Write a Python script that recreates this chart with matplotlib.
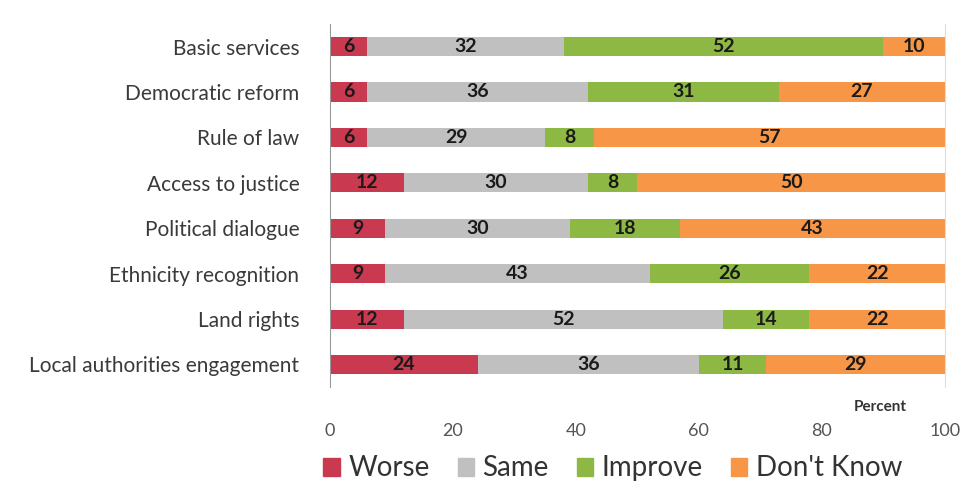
import numpy as np
import matplotlib.pyplot as plt
from matplotlib.patches import Patch

plt.rcParams['font.family'] = ['Lato', 'DejaVu Sans']

# Survey results, percent of respondents
categories = ['Basic services', 'Democratic reform', 'Rule of law', 'Access to justice',
              'Political dialogue', 'Ethnicity recognition', 'Land rights',
              'Local authorities engagement']
worse = [6, 6, 6, 12, 9, 9, 12, 24]
same = [32, 36, 29, 30, 30, 43, 52, 36]
improve = [52, 31, 8, 8, 18, 26, 14, 11]
dont_know = [10, 27, 57, 50, 43, 22, 22, 29]

series = [('Worse', worse, '#C9394F'),
          ('Same', same, '#C0C0C0'),
          ('Improve', improve, '#8DB843'),
          ("Don't Know", dont_know, '#F79646')]

fig = plt.figure(figsize=(9.65, 4.87), dpi=100)
ax = fig.add_axes([0.342, 0.205, 0.637, 0.746])

y = np.arange(len(categories))
left = np.zeros(len(categories))
for name, vals, col in series:
    vals = np.array(vals, dtype=float)
    ax.barh(y, vals, left=left, height=0.42, color=col, label=name)
    for yi, l, v in zip(y, left, vals):
        ax.text(l + v / 2, yi, f'{int(v)}', ha='center', va='center',
                fontsize=14, fontweight='bold', color='#1a1a1a')
    left += vals

ax.set_xlim(0, 100)
ax.set_ylim(len(categories) - 0.5, -0.5)
ax.set_yticks(y)
ax.set_yticklabels(categories, fontsize=15, color='#3a3a3a')
ax.set_xticks([0, 20, 40, 60, 80, 100])
ax.tick_params(axis='x', length=0, pad=26, labelsize=13, labelcolor='#555555')
ax.tick_params(axis='y', length=0, pad=22)
for s in ['top', 'bottom']:
    ax.spines[s].set_visible(False)
ax.spines['left'].set_color('#999999')
ax.spines['right'].set_color('#dddddd')

fig.text(0.912, 0.165, 'Percent', ha='center', va='center', fontsize=11,
         fontweight='bold', color='#333333')

handles = [Patch(color=c, label=n) for n, _, c in series]
fig.legend(handles=handles, loc='center', bbox_to_anchor=(0.635, 0.038), ncol=4,
           frameon=False, fontsize=20, handlelength=0.6, handleheight=0.6,
           handletextpad=0.3, columnspacing=1.0, labelcolor='#333333')

fig.savefig('out.png', dpi=100)
